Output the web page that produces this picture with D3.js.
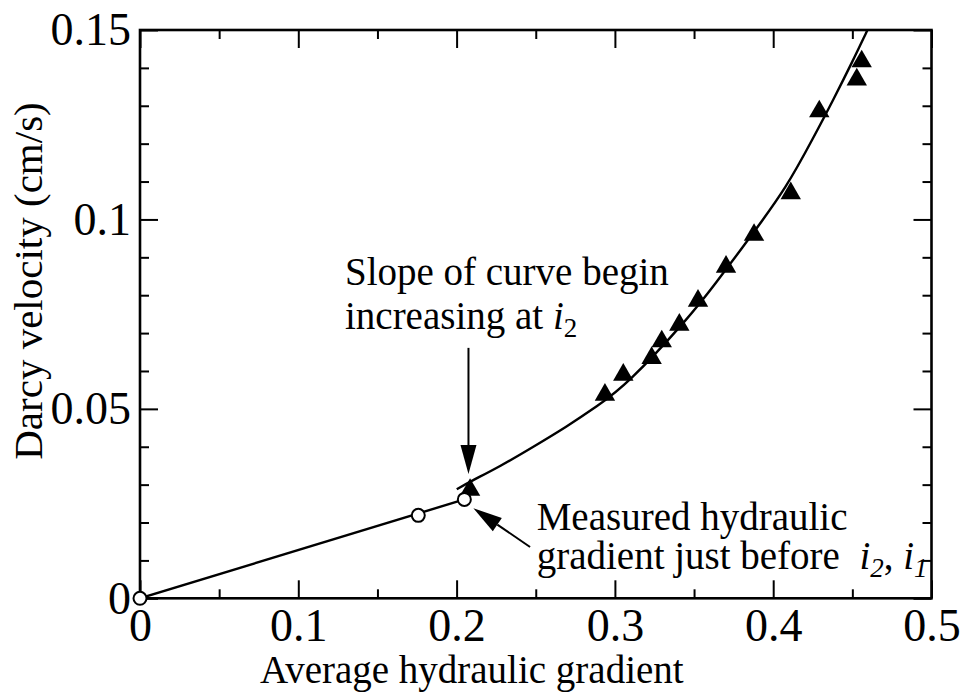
<!DOCTYPE html>
<html>
<head>
<meta charset="utf-8">
<script src="https://cdn.jsdelivr.net/npm/d3@7"></script>
<style>
  body { margin: 0; background: #fff; }
</style>
</head>
<body>
<svg id="chart" width="961" height="698"></svg>
<script>
// measured data (triangles)
var triX = [0.2085, 0.2937, 0.3053, 0.3232, 0.3296, 0.3407, 0.3525, 0.3702, 0.3879, 0.4111, 0.4291, 0.4528, 0.4559];
var triY = [0.0286, 0.0537, 0.0590, 0.0634, 0.0678, 0.0722, 0.0785, 0.0875, 0.0959, 0.1069, 0.1285, 0.1369, 0.1417];

// open circles
var circX = [0, 0.1758, 0.2049];
var circY = [0, 0.0219, 0.0261];

// linear part up to i1
var lowX = [0, 0.2049];
var lowY = [0, 0.0261];

// fitted curve after i2
var curveX = [0.2001, 0.2085, 0.2274, 0.2485, 0.2695, 0.2885, 0.3075, 0.3474, 0.3622, 0.3874, 0.4085, 0.4253, 0.4380, 0.4506, 0.4594, 0.4625];
var curveY = [0.0288, 0.0308, 0.0348, 0.0400, 0.0453, 0.0506, 0.0563, 0.0744, 0.0823, 0.0964, 0.1085, 0.1215, 0.1316, 0.1421, 0.1499, 0.1525];

var xMajor = [0, 0.1, 0.2, 0.3, 0.4, 0.5];
var xMinor = [0.05, 0.15, 0.25, 0.35, 0.45];
var yMajor = [0, 0.05, 0.1, 0.15];
var yMinor = [0.01, 0.02, 0.03, 0.04, 0.06, 0.07, 0.08, 0.09, 0.11, 0.12, 0.13, 0.14];
var xTickLabels = ["0", "0.1", "0.2", "0.3", "0.4", "0.5"];
var yTickLabels = ["0", "0.05", "0.1", "0.15"];

var serif = "Liberation Serif";
var margin = {left: 140, top: 30};
var width = 791.5;
var height = 568.3;

var svg = d3.select("#chart").attr("font-family", serif);
var g = svg.append("g").attr("transform", "translate(" + margin.left + "," + margin.top + ")");

var x = d3.scaleLinear().domain([0, 0.5]).range([0, width]);
var y = d3.scaleLinear().domain([0, 0.15]).range([height, 0]);

svg.append("defs").append("clipPath").attr("id", "clip")
    .append("rect").attr("width", width).attr("height", height);

function styleAxis(sel) {
    sel.attr("font-family", serif).attr("font-size", 46);
    sel.select(".domain").remove();
    sel.selectAll("line").attr("stroke", "#000").attr("stroke-width", 2);
    sel.selectAll("text").attr("fill", "#000");
}

// bottom
g.append("g").attr("transform", "translate(0," + height + ")")
    .call(d3.axisBottom(x).tickValues(xMajor).tickSize(-18).tickPadding(10)
        .tickFormat(function(d, i) { return xTickLabels[i]; }))
    .call(styleAxis);
g.append("g").attr("transform", "translate(0," + height + ")")
    .call(d3.axisBottom(x).tickValues(xMinor).tickSize(-9).tickFormat(""))
    .call(styleAxis);
// top
g.append("g")
    .call(d3.axisTop(x).tickValues(xMajor).tickSize(-18).tickFormat(""))
    .call(styleAxis);
g.append("g")
    .call(d3.axisTop(x).tickValues(xMinor).tickSize(-9).tickFormat(""))
    .call(styleAxis);
// left
g.append("g")
    .call(d3.axisLeft(y).tickValues(yMajor).tickSize(-18).tickPadding(9)
        .tickFormat(function(d, i) { return yTickLabels[i]; }))
    .call(styleAxis);
g.append("g")
    .call(d3.axisLeft(y).tickValues(yMinor).tickSize(-9).tickFormat(""))
    .call(styleAxis);
// right
g.append("g").attr("transform", "translate(" + width + ",0)")
    .call(d3.axisRight(y).tickValues(yMajor).tickSize(-18).tickFormat(""))
    .call(styleAxis);
g.append("g").attr("transform", "translate(" + width + ",0)")
    .call(d3.axisRight(y).tickValues(yMinor).tickSize(-9).tickFormat(""))
    .call(styleAxis);

// frame
g.append("rect").attr("width", width).attr("height", height)
    .attr("fill", "none").attr("stroke", "#000").attr("stroke-width", 2.6);

var plot = g.append("g").attr("clip-path", "url(#clip)");

var line = d3.line().x(function(d) { return x(d[0]); }).y(function(d) { return y(d[1]); });

plot.append("path")
    .datum(lowX.map(function(v, i) { return [v, lowY[i]]; }))
    .attr("d", line)
    .attr("fill", "none").attr("stroke", "#000").attr("stroke-width", 2.4);

plot.append("path")
    .datum(curveX.map(function(v, i) { return [v, curveY[i]]; }))
    .attr("d", line.curve(d3.curveBasis))
    .attr("fill", "none").attr("stroke", "#000").attr("stroke-width", 2.4);

// triangles
g.append("g").selectAll("path")
    .data(triX.map(function(v, i) { return [v, triY[i]]; }))
    .enter().append("path")
    .attr("transform", function(d) { return "translate(" + x(d[0]) + "," + y(d[1]) + ")"; })
    .attr("d", d3.symbol(d3.symbolTriangle, 180))
    .attr("fill", "#000");

// circles
g.append("g").selectAll("circle")
    .data(circX.map(function(v, i) { return [v, circY[i]]; }))
    .enter().append("circle")
    .attr("cx", function(d) { return x(d[0]); })
    .attr("cy", function(d) { return y(d[1]); })
    .attr("r", 6.5)
    .attr("fill", "#fff").attr("stroke", "#000").attr("stroke-width", 2);

// arrows
function arrow(x1, y1, x2, y2) {
    var px1 = x(x1), py1 = y(y1), px2 = x(x2), py2 = y(y2);
    var a = Math.atan2(py2 - py1, px2 - px1);
    var len = 29, half = 8;
    var bx = px2 - len * Math.cos(a), by = py2 - len * Math.sin(a);
    g.append("line").attr("x1", px1).attr("y1", py1).attr("x2", bx).attr("y2", by)
        .attr("stroke", "#000").attr("stroke-width", 2);
    var pts = [[px2, py2],
        [bx + half * Math.sin(a), by - half * Math.cos(a)],
        [bx - half * Math.sin(a), by + half * Math.cos(a)]];
    g.append("path").attr("d", "M" + pts.join("L") + "Z").attr("fill", "#000");
}
arrow(0.2075, 0.0661, 0.2075, 0.0328);
arrow(0.2464, 0.01355, 0.2106, 0.02377);

// annotations
var ann = g.append("g").attr("font-size", 39).attr("font-family", serif).attr("fill", "#000");
var t1 = ann.append("text").attr("x", x(0.1295)).attr("y", y(0.0827));
t1.append("tspan").text("Slope of curve begin");
var t1b = ann.append("text").attr("x", x(0.1295)).attr("y", y(0.0827) + 44);
t1b.append("tspan").text("increasing at ");
t1b.append("tspan").attr("font-style", "italic").text("i");
t1b.append("tspan").attr("dy", 8).attr("font-size", 27).text("2");

var t2 = ann.append("text").attr("x", x(0.2506)).attr("y", y(0.0180));
t2.append("tspan").text("Measured hydraulic");
var t2b = ann.append("text").attr("x", x(0.2506)).attr("y", y(0.0180) + 39);
t2b.append("tspan").text("gradient just before\u00a0\u00a0");
t2b.append("tspan").attr("font-style", "italic").text("i");
t2b.append("tspan").attr("dy", 8).attr("font-size", 27).attr("font-style", "italic").text("2");
t2b.append("tspan").attr("dy", -8).text(", ");
t2b.append("tspan").attr("font-style", "italic").text("i");
t2b.append("tspan").attr("dy", 8).attr("font-size", 27).attr("font-style", "italic").text("1");

// axis titles
svg.append("text")
    .attr("x", margin.left + width / 2 - 64).attr("y", 683)
    .attr("text-anchor", "middle").attr("font-size", 39)
    .text("Average hydraulic gradient");
svg.append("text")
    .attr("transform", "translate(42,281) rotate(-90)")
    .attr("text-anchor", "middle").attr("font-size", 41)
    .text("Darcy velocity (cm/s)");
</script>
</body>
</html>
